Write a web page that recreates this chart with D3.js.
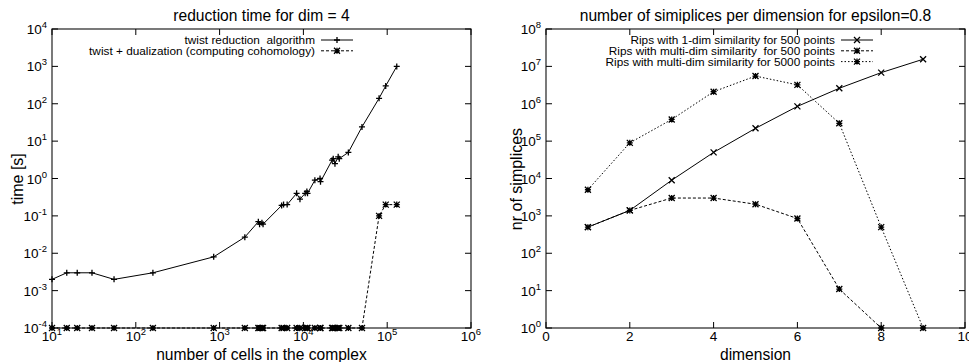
<!DOCTYPE html>
<html>
<head>
<meta charset="UTF-8">
<style>
  body { margin: 0; background: #fff; }
  svg { display: block; font-family: "Liberation Sans", Arial, sans-serif; }
  text { fill: #000; }
</style>
</head>
<body>
<svg id="chart" width="969" height="362"></svg>
<script src="https://cdn.jsdelivr.net/npm/d3@7"></script>
<script>
// ---- data ----
// left: reduction time vs number of cells
const cells = [10, 15, 20, 30, 55, 160, 850, 2000, 2900, 3000, 3200, 3300,
  5500, 5800, 6400, 8300, 9100, 10500, 11000, 11200, 13700, 15800, 16000,
  22000, 22700, 23800, 26000, 26800, 34400, 50000, 80000, 96000, 130000];
const timeTwist = [0.002, 0.003, 0.003, 0.003, 0.002, 0.003, 0.008, 0.027, 0.07, 0.06, 0.065, 0.06,
  0.19, 0.2, 0.2, 0.4, 0.28, 0.4, 0.45, 0.4, 0.9, 1.0, 0.82,
  3.1, 3.4, 2.5, 3.8, 3.4, 5, 24, 140, 300, 1000];
const timeDual = [1e-4, 1e-4, 1e-4, 1e-4, 1e-4, 1e-4, 1e-4, 1e-4, 1e-4, 1e-4, 1e-4, 1e-4,
  1e-4, 1e-4, 1e-4, 1e-4, 1e-4, 1e-4, 1e-4, 1e-4, 1e-4, 1e-4, 1e-4,
  1e-4, 1e-4, 1e-4, 1e-4, 1e-4, 1e-4, 1e-4, 0.1, 0.2, 0.2];
const leftXExp = [1, 2, 3, 4, 5, 6];
const leftYExp = [-4, -3, -2, -1, 0, 1, 2, 3, 4];

// right: simplices per dimension
const dims = [1, 2, 3, 4, 5, 6, 7, 8, 9];
const rips1dim500 = [500, 1400, 9000, 50000, 220000, 850000, 2600000, 6800000, 15500000];
const ripsMulti500 = [500, 1400, 3000, 3000, 2050, 850, 11, 1];
const ripsMulti5000 = [5000, 90000, 380000, 2100000, 5500000, 3200000, 300000, 500, 1];
const rightXTicks = [0, 2, 4, 6, 8, 10];
const rightYExp = [0, 1, 2, 3, 4, 5, 6, 7, 8];

const titles = ["reduction time for dim = 4", "number of simiplices per dimension for epsilon=0.8"];
const xLabels = ["number of cells in the complex", "dimension"];
const yLabels = ["time [s]", "nr of simplices"];

// ---- drawing ----
let svg = d3.select("#chart");

let xL = d3.scaleLog().domain([10, 1e6]).range([52, 471]);
let yL = d3.scaleLog().domain([1e-4, 1e4]).range([328, 29]);
let xR = d3.scaleLinear().domain([0, 10]).range([546, 965]);
let yR = d3.scaleLog().domain([1, 1e8]).range([328, 29]);

const TICK = 6;

function powLabel(t, e) {
  t.append("tspan").text("10");
  t.append("tspan").attr("dy", -6).attr("font-size", 9.5).text(e);
}

function frame(x, y, xTicks, yTicks, xLog, yLog) {
  let g = svg.append("g");
  let [x0, x1] = x.range(), [y1, y0] = y.range();
  g.append("rect").attr("x", x0).attr("y", y0)
    .attr("width", x1 - x0).attr("height", y1 - y0)
    .attr("fill", "none").attr("stroke", "#222").attr("stroke-width", 1.2);

  xTicks.forEach(v => {
    let px = xLog ? x(Math.pow(10, v)) : x(v);
    g.append("path").attr("d", `M${px},${y1}v${-TICK}M${px},${y0}v${TICK}`)
      .attr("stroke", "#000");
    let t = g.append("text").attr("x", px).attr("y", 341)
      .attr("text-anchor", "middle").attr("font-size", 13.5);
    if (xLog) powLabel(t, v); else t.text(v);
  });
  yTicks.forEach(v => {
    let py = yLog ? y(Math.pow(10, v)) : y(v);
    g.append("path").attr("d", `M${x0},${py}h${TICK}M${x1},${py}h${-TICK}`)
      .attr("stroke", "#000");
    let t = g.append("text").attr("x", x0 - 5).attr("y", py + 5)
      .attr("text-anchor", "end").attr("font-size", 13.5);
    powLabel(t, v);
  });
  return g;
}

function marker(kind, s) {
  let plus = `M${-s},0H${s}M0,${-s}V${s}`;
  let cross = `M${-s},${-s}L${s},${s}M${-s},${s}L${s},${-s}`;
  if (kind == "+") return plus;
  if (kind == "x") return cross;
  return plus + cross;
}

function series(g, x, y, xs, ys, dash, kind) {
  let pts = xs.slice(0, ys.length).map((d, i) => [x(d), y(ys[i])]);
  g.append("path").datum(pts)
    .attr("d", d3.line())
    .attr("fill", "none").attr("stroke", "#000").attr("stroke-width", 1)
    .attr("stroke-dasharray", dash);
  g.selectAll(null).data(pts).enter().append("path")
    .attr("transform", d => `translate(${d[0]},${d[1]})`)
    .attr("d", marker(kind, 3))
    .attr("stroke", "#000").attr("stroke-width", 1.3);
}

function legend(g, items, xText, yTop) {
  items.forEach((it, i) => {
    let yy = yTop + i * 10.8;
    g.append("text").attr("x", xText).attr("y", yy + 4)
      .attr("text-anchor", "end").attr("font-size", 11.8)
      .style("white-space", "pre").text(it.label);
    g.append("path").attr("d", `M${xText + 6},${yy}h32`)
      .attr("stroke", "#000").attr("stroke-dasharray", it.dash);
    g.append("path").attr("transform", `translate(${xText + 22},${yy})`)
      .attr("d", marker(it.kind, 3)).attr("stroke", "#000").attr("stroke-width", 1.3);
  });
}

// left chart
let gl = frame(xL, yL, leftXExp, leftYExp, true, true);
series(gl, xL, yL, cells, timeTwist, null, "+");
series(gl, xL, yL, cells, timeDual, "3,2", "*");
legend(gl, [
  {label: "twist reduction  algorithm", dash: null, kind: "+"},
  {label: "twist + dualization (computing cohomology)", dash: "3,2", kind: "*"}
], 315, 40);

// right chart
let gr = frame(xR, yR, rightXTicks, rightYExp, false, true);
series(gr, xR, yR, dims, rips1dim500, null, "x");
series(gr, xR, yR, dims, ripsMulti500, "3,2", "*");
series(gr, xR, yR, dims, ripsMulti5000, "1.5,2", "*");
legend(gr, [
  {label: "Rips with 1-dim similarity for 500 points", dash: null, kind: "x"},
  {label: "Rips with multi-dim similarity  for 500 points", dash: "3,2", kind: "*"},
  {label: "Rips with multi-dim similarity for 5000 points", dash: "1.5,2", kind: "*"}
], 835, 40);

// titles and axis labels
[[xL, 0], [xR, 1]].forEach(([x, i]) => {
  let [a, b] = x.range(), c = (a + b) / 2;
  svg.append("text").attr("x", c).attr("y", 21).attr("text-anchor", "middle")
    .attr("font-size", 15.6).text(titles[i]);
  svg.append("text").attr("x", c).attr("y", 360).attr("text-anchor", "middle")
    .attr("font-size", 15.6).text(xLabels[i]);
});
[[23, 0], [522, 1]].forEach(([px, i]) => {
  svg.append("text").attr("transform", `translate(${px},179) rotate(-90)`)
    .attr("text-anchor", "middle").attr("font-size", 16).text(yLabels[i]);
});
</script>
</body>
</html>
